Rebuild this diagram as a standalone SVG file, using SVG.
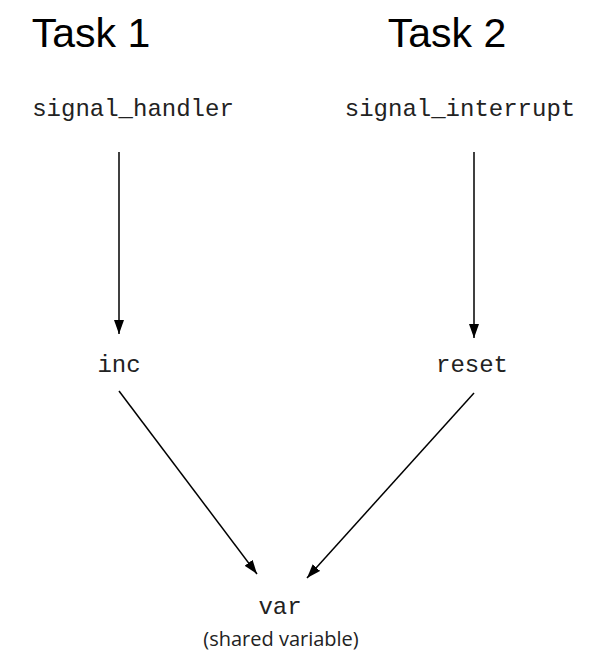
<svg xmlns="http://www.w3.org/2000/svg" width="605" height="653" viewBox="0 0 605 653">
<defs>
<marker id="ah" viewBox="0 0 14 10" refX="14" refY="5" markerWidth="14" markerHeight="10" markerUnits="userSpaceOnUse" orient="auto">
<path d="M0,0 L14,5 L0,10 Z" fill="#000"/>
</marker>
<style>
.title{font-family:"Liberation Sans",Arial,sans-serif;font-size:41px;fill:#000;text-anchor:middle}
.code{font-family:"Liberation Mono","Courier New",monospace;font-size:24px;fill:#222;text-anchor:middle}
.note{font-family:"Open Sans","Noto Sans",sans-serif;font-size:20px;fill:#222;text-anchor:middle}
.edge{stroke:#000;stroke-width:1.5;fill:none;marker-end:url(#ah)}
</style>
</defs>
<rect width="605" height="653" fill="#fff"/>
<g id="task1"><text class="title" x="91" y="47">Task 1</text></g>
<g id="task2"><text class="title" x="447" y="47">Task 2</text></g>
<g id="signal_handler"><text class="code" x="133" y="116">signal_handler</text></g>
<g id="signal_interrupt"><text class="code" x="460" y="116">signal_interrupt</text></g>
<g id="inc"><text class="code" x="119" y="372">inc</text></g>
<g id="reset"><text class="code" x="472" y="372">reset</text></g>
<g id="var"><text class="code" x="280" y="614">var</text><text class="note" x="281" y="646">(shared variable)</text></g>
<g id="connectors">
<line class="edge" x1="119" y1="152" x2="119" y2="334"/>
<line class="edge" x1="474" y1="152" x2="474" y2="338"/>
<line class="edge" x1="119" y1="391" x2="257" y2="574"/>
<line class="edge" x1="474" y1="393" x2="307" y2="578"/>
</g>
</svg>
